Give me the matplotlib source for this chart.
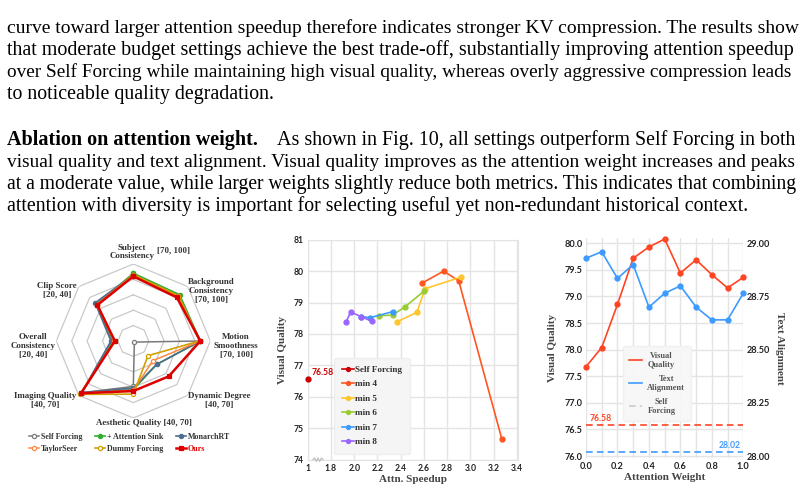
import numpy as np
import matplotlib
matplotlib.use("Agg")
import matplotlib.pyplot as plt
from matplotlib.lines import Line2D
from matplotlib.font_manager import FontProperties

# ---------------- text ----------------
para1 = [
    "curve toward larger attention speedup therefore indicates stronger KV compression. The results show",
    "that moderate budget settings achieve the best trade-off, substantially improving attention speedup",
    "over Self Forcing while maintaining high visual quality, whereas overly aggressive compression leads",
    "to noticeable quality degradation.",
]
para2_head = "Ablation on attention weight."
para2 = [
    "As shown in Fig. 10, all settings outperform Self Forcing in both",
    "visual quality and text alignment. Visual quality improves as the attention weight increases and peaks",
    "at a moderate value, while larger weights slightly reduce both metrics. This indicates that combining",
    "attention with diversity is important for selecting useful yet non-redundant historical context.",
]

# ---------------- radar data ----------------
radar_names = ["Subject Consistency", "Background Consistency", "Motion Smoothness", "Dynamic Degree",
               "Aesthetic Quality", "Imaging Quality", "Overall Consistency", "Clip Score"]
radar_lo = [70, 70, 70, 40, 40, 40, 20, 20]
radar_hi = [100, 100, 100, 70, 70, 70, 40, 40]
radar_methods = ["Self Forcing", "+ Attention Sink", "MonarchRT", "TaylorSeer", "Dummy Forcing", "Ours"]
self_forcing_vals = [95.5, 94.6, 96.1, 40.6, 57.7, 68.5, 25.6, 33.6]
attn_sink_vals = [96.4, 95.5, 96.1, 52.9, 58.9, 68.8, 25.2, 33.4]
monarch_vals = [95.8, 94.9, 96.1, 52.9, 58.3, 68.5, 25.8, 34.0]
taylor_vals = [95.8, 94.9, 96.1, 50.8, 59.2, 68.8, 25.0, 33.4]
dummy_vals = [95.8, 94.9, 95.8, 48.1, 60.7, 69.4, 24.8, 33.2]
ours_vals = [95.2, 94.0, 96.1, 59.5, 59.5, 68.8, 24.8, 33.2]

# ---------------- speedup data ----------------
sf_speed = [1.0]
sf_vq = [76.58]
min4_speed = [2.58, 2.77, 2.90, 3.27]
min4_vq = [79.61, 80.00, 79.69, 74.67]
min5_speed = [2.37, 2.54, 2.61, 2.92]
min5_vq = [78.39, 78.69, 79.44, 79.81]
min6_speed = [2.21, 2.33, 2.44, 2.60]
min6_vq = [78.58, 78.60, 78.87, 79.36]
min7_speed = [2.06, 2.14, 2.33]
min7_vq = [78.55, 78.52, 78.71]
min8_speed = [1.93, 1.97, 2.06, 2.15]
min8_vq = [78.38, 78.70, 78.55, 78.41]
speed_ticks = [1.0, 1.8, 2.0, 2.2, 2.4, 2.6, 2.8, 3.0, 3.2, 3.4]
speed_ticklabels = ["1", "1.8", "2.0", "2.2", "2.4", "2.6", "2.8", "3.0", "3.2", "3.4"]

# ---------------- attention weight data ----------------
attn_weight = [0.0, 0.1, 0.2, 0.3, 0.4, 0.5, 0.6, 0.7, 0.8, 0.9, 1.0]
vq_weight = [77.68, 78.04, 78.85, 79.72, 79.93, 80.08, 79.44, 79.69, 79.41, 79.16, 79.36]
ta_weight = [28.93, 28.96, 28.835, 28.90, 28.70, 28.765, 28.80, 28.70, 28.64, 28.64, 28.765]
sf_vq_ref = 76.58
sf_ta_ref = 28.02

# ======================================================
W, H = 805, 494
fig = plt.figure(figsize=(8.05, 4.94), dpi=100)
fig.patch.set_facecolor("white")
renderer = fig.canvas.get_renderer()

SERIF = "Liberation Serif"
SANS = "Lato"


def fx(px):
    return px / W


def fy(py):
    return 1 - py / H


def width_px(s, size, weight="normal"):
    fp = FontProperties(family=SERIF, size=size, weight=weight)
    w, h, d = renderer.get_text_width_height_descent(s, fp, ismath=False)
    return w


# ---------------- body text ----------------
X0, X1 = 7, 799
ref = 12.6
base = ref * (746 - X0) / width_px(para2[3], ref)


def fit(s, x0, x1, weight="normal"):
    return base * (x1 - x0) / width_px(s, base, weight)


baselines1 = [33, 55, 77, 99]
for i, s in enumerate(para1):
    size = fit(s, X0, X1) if i < 3 else base
    fig.text(fx(X0), fy(baselines1[i]), s, family=SERIF, size=size, va="baseline", ha="left")

baselines2 = [145, 167, 189, 211]
head_end = 257
rest_start = 277
hsize = fit(para2_head, X0, head_end, "bold")
fig.text(fx(X0), fy(baselines2[0]), para2_head, family=SERIF, size=hsize, weight="bold",
         va="baseline", ha="left")
for i, s in enumerate(para2):
    if i == 0:
        size = fit(s, rest_start, X1)
        fig.text(fx(rest_start), fy(baselines2[0]), s, family=SERIF, size=size, va="baseline", ha="left")
    else:
        size = fit(s, X0, X1) if i < 3 else base
        fig.text(fx(X0), fy(baselines2[i]), s, family=SERIF, size=size, va="baseline", ha="left")

# ---------------- radar chart ----------------
cx, cy, R = 133.3, 341, 77
axr = fig.add_axes([fx(cx - R), fy(cy + R), 2 * R / W, 2 * R / H], projection="polar")
axr.set_theta_zero_location("N")
axr.set_theta_direction(-1)
axr.set_ylim(0, 1)
axr.set_xticks([])
axr.set_yticks([])
axr.grid(False)
axr.spines["polar"].set_visible(False)
axr.patch.set_alpha(0)

n = len(radar_names)
theta = np.arange(n) * 2 * np.pi / n
th_c = np.append(theta, theta[0])
for rr in [0.2, 0.4, 0.6, 0.8, 1.0]:
    axr.plot(th_c, [rr] * (n + 1), color="#c9c9c9", lw=0.9, zorder=1)

lo = np.array(radar_lo, float)
hi = np.array(radar_hi, float)
styles = [
    (self_forcing_vals, "#7a7a7a", "o", "white", 1.1, 3.0),
    (attn_sink_vals, "#2fae2f", "o", None, 1.2, 3.0),
    (monarch_vals, "#4f6d8f", "o", None, 1.2, 3.0),
    (taylor_vals, "#ff8a3d", "o", "white", 1.1, 3.0),
    (dummy_vals, "#d1a000", "o", "white", 1.2, 3.0),
    (ours_vals, "#dd0000", "s", None, 1.8, 3.2),
]
handles = []
for (vals, col, mk, mfc, lw, ms), name in zip(styles, radar_methods):
    r = (np.array(vals) - lo) / (hi - lo)
    rc = np.append(r, r[0])
    ln, = axr.plot(th_c, rc, color=col, lw=lw, marker=mk, ms=ms,
                   mfc=(mfc if mfc else col), mec=col, mew=0.9, zorder=3, clip_on=False,
                   label=name)
    handles.append(ln)

rfs = 6.4
rcol = "#333333"
rad_labels = [
    ("Subject\nConsistency", 131.7, 252),
    ("[70, 100]", 173.3, 250.5),
    ("Background\nConsistency\n[70, 100]", 211, 291),
    ("Motion\nSmoothness\n[70, 100]", 236, 345.5),
    ("Dynamic Degree\n[40, 70]", 219, 400),
    ("Aesthetic Quality [40, 70]", 144, 423),
    ("Imaging Quality\n[40, 70]", 45, 400),
    ("Overall\nConsistency\n[20, 40]", 33, 346),
    ("Clip Score\n[20, 40]", 57, 290.5),
]
for s, x, y in rad_labels:
    fig.text(fx(x), fy(y), s, family=SERIF, weight="bold", size=rfs, color=rcol,
             ha="center", va="center", multialignment="center", linespacing=1.1)

order = [0, 3, 1, 4, 2, 5]
leg = fig.legend([handles[i] for i in order], [radar_methods[i] for i in order],
                 loc="upper left", bbox_to_anchor=(fx(29), fy(433)), ncol=3, frameon=False,
                 prop=FontProperties(family=SERIF, weight="bold", size=5.8),
                 handlelength=1.2, handletextpad=0.25, columnspacing=1.6,
                 labelspacing=0.45, borderpad=0, borderaxespad=0)
for t in leg.get_texts():
    t.set_color(rcol)
leg.get_texts()[5].set_color("#e00000")

# ---------------- speedup chart ----------------
K = 0.25


def fwd(x):
    x = np.asarray(x, float)
    return np.where(x < 1.8, 1.8 - (1.8 - x) * K, x)


def inv(y):
    y = np.asarray(y, float)
    return np.where(y < 1.8, 1.8 - (1.8 - y) / K, y)


L2, R2, T2, B2 = 307.7, 518, 239.7, 459.7
ax2 = fig.add_axes([fx(L2), fy(B2), (R2 - L2) / W, (B2 - T2) / H])
ax2.set_xscale("function", functions=(fwd, inv))
ax2.set_xlim(1.0, 3.41)
ax2.set_ylim(74, 81)
gcol = "#e4e4e4"
for sp in ax2.spines.values():
    sp.set_color(gcol)
ax2.grid(True, color=gcol, lw=1.0, zorder=0)
ax2.set_axisbelow(True)
ax2.set_xticks(speed_ticks)
ax2.set_xticklabels(speed_ticklabels)
ax2.set_yticks(range(74, 82))
ax2.tick_params(length=0, pad=3, labelsize=6.2, colors="#222222")
for lab in ax2.get_xticklabels() + ax2.get_yticklabels():
    lab.set_fontfamily(SANS)
    lab.set_fontweight("bold")

series2 = [
    (sf_speed, sf_vq, "#cc0000", "Self Forcing"),
    (min4_speed, min4_vq, "#ff5522", "min 4"),
    (min5_speed, min5_vq, "#ffc62a", "min 5"),
    (min6_speed, min6_vq, "#99cc33", "min 6"),
    (min7_speed, min7_vq, "#3d9bff", "min 7"),
    (min8_speed, min8_vq, "#9966ff", "min 8"),
]
h2 = []
for xs, ys, col, name in series2:
    ln, = ax2.plot(xs, ys, color=col, lw=1.2, marker="o", ms=3.5, label=name, zorder=3, clip_on=False)
    h2.append(ln)
ax2.annotate("76.58", (sf_speed[0], sf_vq[0]), xytext=(3, 1.5), textcoords="offset points",
             color="#cc0000", fontfamily=SANS, fontweight="bold", fontsize=6.2, ha="left", va="bottom")

# axis break zig-zag
zx = np.linspace(1.18, 1.53, 7)
zy = np.array([0, 1, -1, 1, -1, 1, 0]) * 0.008
ax2.plot(zx, zy, color="#bbbbbb", lw=0.8, transform=ax2.get_xaxis_transform(), clip_on=False, zorder=4)

leg2 = ax2.legend(handles=h2, loc="upper left", bbox_to_anchor=(0.105, 0.482),
                  prop=FontProperties(family=SERIF, weight="bold", size=6.6),
                  handlelength=1.3, handletextpad=0.2, labelspacing=0.66, borderpad=0.8,
                  fancybox=True, facecolor="#f5f5f5", edgecolor="#eeeeee", framealpha=0.95,
                  markerscale=0.8)
for t in leg2.get_texts():
    t.set_color("#333333")

ax2.set_ylabel("Visual Quality", family=SERIF, weight="bold", size=8, color="#444444")
ax2.yaxis.label.set_verticalalignment("center")
ax2.yaxis.set_label_coords(-0.122, 0.5)
ax2.set_xlabel("Attn. Speedup", family=SERIF, weight="bold", size=8, color="#444444")
ax2.xaxis.label.set_verticalalignment("center")
ax2.xaxis.set_label_coords(0.5, -0.092)

# ---------------- attention weight chart ----------------
L3, R3, T3, B3 = 586, 743.3, 238.3, 458.3
ax3 = fig.add_axes([fx(L3), fy(B3), (R3 - L3) / W, (B3 - T3) / H])
ax3.set_xlim(0, 1)
y3lo, y3hi = 75.957, 80.094
ax3.set_ylim(y3lo, y3hi)
ax3r = ax3.twinx()
ax3r.set_ylim(28 + (y3lo - 76) / 4, 29 + (y3hi - 80) / 4)
for a in (ax3, ax3r):
    for sp in a.spines.values():
        sp.set_visible(False)
ax3.set_xticks([0.0, 0.2, 0.4, 0.6, 0.8, 1.0])
ax3.set_xticks(np.arange(0.1, 1.0, 0.2), minor=True)
ax3.set_yticks(np.arange(76.0, 80.01, 0.5))
ax3.set_yticklabels(["%.1f" % v for v in np.arange(76.0, 80.01, 0.5)])
ax3r.set_yticks(np.arange(28.0, 29.001, 0.25))
ax3r.set_yticklabels(["%.2f" % v for v in np.arange(28.0, 29.001, 0.25)])
ax3.set_xticklabels(["%.1f" % v for v in [0.0, 0.2, 0.4, 0.6, 0.8, 1.0]])
ax3.grid(True, which="both", axis="x", color=gcol, lw=1.0)
ax3.grid(True, which="major", axis="y", color=gcol, lw=1.0)
ax3.set_axisbelow(True)
for a in (ax3, ax3r):
    a.tick_params(which="both", length=0, pad=2.5, labelsize=6.6, colors="#222222")
    for lab in a.get_xticklabels() + a.get_yticklabels():
        lab.set_fontfamily(SANS)
        lab.set_fontweight("bold")

red3, blue3 = "#ff4422", "#3d9bff"
ax3.plot(attn_weight, vq_weight, color=red3, lw=1.2, marker="o", ms=3.5, zorder=3, clip_on=False)
ax3r.plot(attn_weight, ta_weight, color=blue3, lw=1.2, marker="o", ms=3.5, zorder=3, clip_on=False)
ax3.axhline(sf_vq_ref, color=red3, lw=1.2, ls=(0, (4, 2.5)))
ax3r.axhline(sf_ta_ref, color=blue3, lw=1.2, ls=(0, (4, 2.5)))
ax3.text(0.02, sf_vq_ref + 0.04, "%.2f" % sf_vq_ref, color=red3, fontfamily=SANS, fontweight="bold",
         fontsize=6.2, ha="left", va="bottom")
ax3r.text(0.985, sf_ta_ref + 0.008, "%.2f" % sf_ta_ref, color=blue3, fontfamily=SANS, fontweight="bold",
          fontsize=6.2, ha="right", va="bottom")

lh = [Line2D([], [], color=red3, lw=1.2), Line2D([], [], color=blue3, lw=1.2),
      Line2D([], [], color="#cccccc", lw=1.2, ls=(0, (4, 2.5)))]
leg3 = ax3r.legend(lh, ["Visual\nQuality", "Text\nAlignment", "Self\nForcing"], loc="upper left",
                   bbox_to_anchor=(0.21, 0.53),
                   prop=FontProperties(family=SERIF, weight="bold", size=6.0),
                   handlelength=1.6, handletextpad=0.6, labelspacing=0.7, borderpad=0.7,
                   fancybox=True, facecolor="#f7f7f7", edgecolor="#f0f0f0", framealpha=0.95)
for t in leg3.get_texts():
    t.set_color("#555555")
    t.set_multialignment("center")

ax3.set_ylabel("Visual Quality", family=SERIF, weight="bold", size=8, color="#444444")
ax3.yaxis.label.set_verticalalignment("center")
ax3.yaxis.set_label_coords(-0.216, 0.5)
ax3r.set_ylabel("Text Alignment", family=SERIF, weight="bold", size=8, color="#444444", rotation=270)
ax3r.yaxis.label.set_verticalalignment("center")
ax3r.yaxis.set_label_coords(1.227, 0.5)
ax3.set_xlabel("Attention Weight", family=SERIF, weight="bold", size=8, color="#444444")
ax3.xaxis.label.set_verticalalignment("center")
ax3.xaxis.set_label_coords(0.5, -0.0895)

fig.savefig("out.png", dpi=100, facecolor="white")
